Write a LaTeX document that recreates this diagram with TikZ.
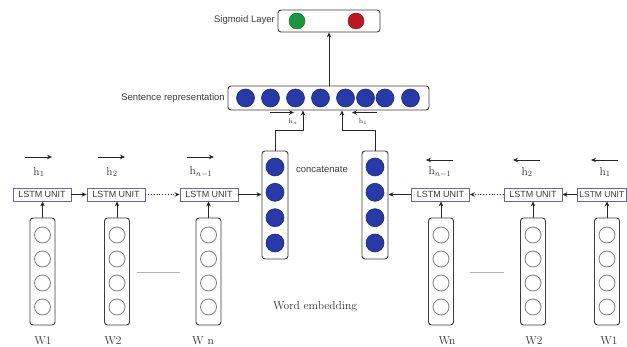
\documentclass[tikz,border=0pt]{standalone}
\usepackage{fontspec}
\newfontfamily\sansf{Liberation Sans}
\usetikzlibrary{arrows.meta}
\definecolor{dotblue}{RGB}{40,58,168}
\definecolor{dotblueline}{RGB}{28,40,120}
\definecolor{sgreen}{RGB}{28,150,62}
\definecolor{sred}{RGB}{190,22,34}
\definecolor{inkgray}{RGB}{60,60,60}
\begin{document}
\begin{tikzpicture}[x=1pt,y=-1pt,
  vecbox/.style={draw=inkgray, line width=0.9pt, rounded corners=3pt, inner sep=0pt, fill=white},
  wcirc/.style={circle, draw=gray, line width=0.8pt, fill=white, minimum size=16pt, inner sep=0pt},
  bcirc/.style={circle, draw=dotblueline, line width=0.6pt, fill=dotblue, minimum size=18pt, inner sep=0pt},
  lstm/.style={draw=gray!80!blue, line width=0.8pt, fill=white, minimum width=58pt, minimum height=13pt,
    inner sep=0pt, font=\sansf\fontsize{9}{9}\selectfont, text=inkgray},
  arr/.style={-{Stealth[length=5pt,width=4.5pt]}, line width=0.8pt, draw=black!85},
  dotarr/.style={arr, dotted},
  sanslabel/.style={font=\sansf\fontsize{9.5}{9.5}\selectfont, text=inkgray, inner sep=1pt},
  seriflabel/.style={font=\fontsize{11.5}{11.5}\selectfont, text=black!80, inner sep=0pt},
  hlabel/.style={font=\fontsize{11.5}{11.5}\selectfont, text=black!80, inner sep=0pt},
  guide/.style={draw=gray!60, line width=0.6pt}
]
\useasboundingbox (0,0) rectangle (627,347);

% word embedding vectors
\foreach \n/\x in {l1/42.5, l2/117, l3/208.5, r3/441, r2/533, r1/607} {
  \node[vecbox, minimum width=25pt, minimum height=107pt] (w\n) at (\x,271.5) {};
  \foreach \k/\y in {1/235, 2/259, 3/283, 4/307}
    \node[wcirc] (w\n c\k) at (\x,\y) {};
}

% forward and backward LSTM units
\node[lstm] (ll1) at (42,194.5) {LSTM UNIT};
\node[lstm] (ll2) at (116,194.5) {LSTM UNIT};
\node[lstm] (ll3) at (209,194.5) {LSTM UNIT};
\node[lstm] (lr3) at (440.5,194.5) {LSTM UNIT};
\node[lstm] (lr2) at (533,194.5) {LSTM UNIT};
\node[lstm, minimum width=49pt, font=\sansf\fontsize{8.5}{8.5}\selectfont] (lr1) at (601.8,194.5) {LSTM UNIT};

% concatenated hidden states
\foreach \n/\x in {cl/275, cr/375} {
  \node[vecbox, minimum width=26pt, minimum height=108pt] (\n) at (\x,205) {};
  \foreach \k/\y in {1/167, 2/192.3, 3/217.7, 4/243}
    \node[bcirc] (\n c\k) at (\x,\y) {};
}

% sentence representation
\node[vecbox, minimum width=201pt, minimum height=24pt] (sent) at (328.5,98) {};
\foreach \k/\x in {1/245.5, 2/270.5, 3/295.5, 4/320.5, 5/345.5, 6/365.5, 7/385, 8/410.5}
  \node[bcirc] (s\k) at (\x,98) {};

% sigmoid output layer
\node[vecbox, minimum width=102pt, minimum height=22pt] (sig) at (329,21) {};
\node[circle, draw=sgreen!70!black, fill=sgreen, minimum size=16pt, inner sep=0pt] (sg) at (297,21) {};
\node[circle, draw=sred!70!black, fill=sred, minimum size=16pt, inner sep=0pt] (sr) at (356,21) {};

% labels
\node[sanslabel, anchor=east] (tsig) at (276,20) {Sigmoid Layer};
\node[sanslabel, anchor=east] (tsent) at (226,98) {Sentence representation};
\node[sanslabel] (tcat) at (322,169) {concatenate};
\node[seriflabel] (temb) at (315,307) {Word embedding};
\foreach \n/\x/\t in {a/43/W1, b/113/W2, c/203/W n, d/447/Wn, e/534/W2, f/609/W1}
  \node[seriflabel] (lab\n) at (\x,341) {\t};

% hidden-state labels with direction arrows
\foreach \n/\x/\t in {1/39/{\mathrm{h}_1}, 2/112/{\mathrm{h}_2}, 3/201/{\mathrm{h}_{n-1}}}{
  \node[hlabel] (hf\n) at (\x,172) {$\t$};
  \coordinate (hfa\n) at (\x-14,157);
  \coordinate (hfb\n) at (\x+13,157);
  \draw[arr] (hfa\n) -- (hfb\n);
}
\foreach \n/\x/\t in {3/440/{\mathrm{h}_{n-1}}, 2/527/{\mathrm{h}_2}, 1/605/{\mathrm{h}_1}}{
  \node[hlabel] (hb\n) at (\x,172) {$\t$};
  \coordinate (hba\n) at (\x+13,160);
  \coordinate (hbb\n) at (\x-14,160);
  \draw[arr] (hba\n) -- (hbb\n);
}

% input arrows: embeddings into LSTM units
\foreach \w/\l in {wl1/ll1, wl2/ll2, wl3/ll3, wr3/lr3, wr2/lr2, wr1/lr1}
  \draw[arr] (\w.north) -- (\w.north |- \l.south);

% recurrent connections
\draw[arr] (ll1) -- (ll2);
\draw[dotarr] (ll2) -- (ll3);
\draw[arr] (ll3) -- (ll3 -| cl.west);
\draw[arr] (lr1) -- (lr2);
\draw[dotarr] (lr2) -- (lr3);
\draw[arr] (lr3) -- (lr3 -| cr.east);

% elided sequence marks
\coordinate (gl1) at (137,272); \coordinate (gl2) at (180,272);
\coordinate (gr1) at (470,272); \coordinate (gr2) at (504,272);
\draw[guide] (gl1) -- (gl2);
\draw[guide] (gr1) -- (gr2);

% final states into the sentence representation
\draw[arr] (cl.north) -- (275,130) -- (303,130) -- (303,110.5);
\draw[arr] (cr.north) -- (375,130) -- (342,130) -- (342,110.5);
\node[font=\fontsize{7}{7}\selectfont, text=black!75, inner sep=0pt] (hn) at (293,122) {$\mathrm{h}_n$};
\node[font=\fontsize{7}{7}\selectfont, text=black!75, inner sep=0pt] (h1) at (363,122) {$\mathrm{h}_1$};
\coordinate (hna) at (270,112.5); \coordinate (hnb) at (294,112.5);
\coordinate (h1a) at (377,112.5); \coordinate (h1b) at (352,112.5);
\draw[arr] (hna) -- (hnb);
\draw[arr] (h1a) -- (h1b);

% sentence representation into the sigmoid layer
\draw[arr] (sent.north -| sig.south) -- (sig.south);
\end{tikzpicture}
\end{document}
